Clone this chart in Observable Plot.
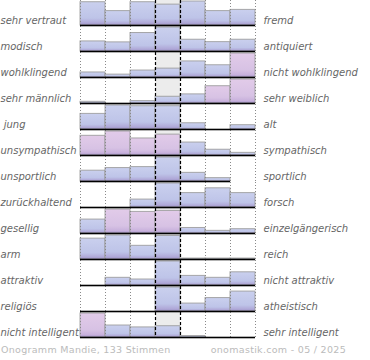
<!DOCTYPE html>
<html><head><meta charset="utf-8">
<script src="https://cdn.jsdelivr.net/npm/d3@7"></script>
<script src="https://cdn.jsdelivr.net/npm/@observablehq/plot@0.6"></script>
<style>
body{margin:0;background:#fff;font-family:"DejaVu Sans",sans-serif;}
#chart svg text{white-space:pre;}
.cap{display:flex;justify-content:space-between;width:370px;box-sizing:border-box;padding:0 24px 0 1px;font-size:9.5px;color:#bbb;line-height:20px;letter-spacing:0.3px;}
</style></head><body>
<div id="chart"></div>
<div class="cap"><span id="c1"></span><span id="c2"></span></div>
<script>
const leftLabels = ["sehr vertraut","modisch","wohlklingend","sehr männlich"," jung","unsympathisch","unsportlich","zurückhaltend","gesellig","arm","attraktiv","religiös","nicht intelligent"];
const rightLabels = ["fremd","antiquiert","nicht wohlklingend","sehr weiblich","alt","sympathisch","sportlich","forsch","einzelgängerisch","reich","nicht attraktiv","atheistisch","sehr intelligent"];
const scores = [1,2,3,4,5,6,7];
// bar heights relative to each row's most frequent answer (null = no answer)
const heights = [
  [0.97,0.60,0.97,0.87,1.00,0.60,0.65],
  [0.42,0.38,0.77,1.00,0.49,0.39,0.49],
  [0.21,0.12,0.29,0.37,0.67,0.51,1.00],
  [0.07,0.00,0.10,0.28,0.38,0.72,1.00],
  [0.65,1.00,0.97,0.97,0.26,0.00,0.18],
  [0.82,1.00,0.71,0.87,0.54,0.24,0.11],
  [0.45,0.56,0.60,1.00,0.36,0.14,null],
  [0.00,0.00,0.33,1.00,0.60,0.80,0.60],
  [0.58,1.00,0.90,0.94,0.23,0.11,0.18],
  [0.87,1.00,0.57,0.98,0.04,0.04,0.04],
  [0.00,0.32,0.25,1.00,0.40,0.32,0.55],
  [0.00,0.00,0.00,1.00,0.33,0.56,0.83],
  [1.00,0.50,0.42,0.47,0.06,0.00,0.00]
];
// answers marked in pink (score numbers per row)
const pinkAnswers = [[],[],[7],[6,7],[],[1,2,3,4],[],[],[2,3,4],[],[],[],[1]];
const captionLeft = "Onogramm Mandie, 133 Stimmen";
const captionRight = "onomastik.com - 05 / 2025";
const middleScore = 4;

const bars = leftLabels.flatMap((row, r) => scores.map((s, c) => ({
  row, score: s, v: heights[r][c], pink: pinkAnswers[r].includes(s)
})));
const drawn = bars.filter(d => d.v != null);
const edges = [scores[0] - 0.5, ...scores.map(s => s + 0.5)];
const midEdges = [middleScore - 0.5, middleScore + 0.5];
const rightRows = rightLabels.map((t, i) => ({row: leftLabels[i], t}));

const svg = Plot.plot({
  width: 370, height: 340,
  marginLeft: 80, marginRight: 115, marginTop: 0, marginBottom: 2,
  style: {fontFamily: "DejaVu Sans, sans-serif", background: "#fff"},
  x: {domain: [0.5, 7.5], axis: null},
  y: {domain: [0, 1], axis: null},
  fy: {domain: leftLabels, axis: null, paddingInner: 1/13, paddingOuter: 1/26},
  color: {type: "identity"},
  marks: [
    Plot.rect([middleScore], {x1: d => d - 0.5, x2: d => d + 0.5, y1: 0, y2: 1, fill: "#ececec", insetTop: -1, insetBottom: -1}),
    Plot.rectY(drawn, {fy: "row", x1: d => d.score - 0.5, x2: d => d.score + 0.5, y: "v",
      fill: d => d.pink ? "url(#gp)" : "url(#gb)", stroke: "#9a9a9a", strokeWidth: 1, strokeOpacity: 0.85}),
    Plot.ruleX(edges.filter(e => !midEdges.includes(e)), {stroke: "#8a8a8a", strokeDasharray: "1,2", insetTop: -1, insetBottom: -1}),
    Plot.ruleX(midEdges, {stroke: "#000", strokeWidth: 1.2, strokeDasharray: "3,2", insetTop: -1, insetBottom: -1}),
    Plot.ruleY(drawn, {fy: "row", y: 0, x1: d => d.score - 0.5, x2: d => d.score + 0.5, stroke: "#000", strokeWidth: 1.6}),
    Plot.text(leftLabels, {fy: d => d, text: d => d, frameAnchor: "left", dx: -80, dy: 7, textAnchor: "start",
      fontStyle: "italic", fontSize: 10, fill: "#666"}),
    Plot.text(rightRows, {fy: "row", text: "t", frameAnchor: "right", dx: 8, dy: 7, textAnchor: "start",
      fontStyle: "italic", fontSize: 10, fill: "#666"})
  ]
});
const defs = d3.select(svg).insert("defs", ":first-child");
const grad = (id, stops) => {
  const g = defs.append("linearGradient").attr("id", id).attr("x1", 0).attr("y1", 0).attr("x2", 0).attr("y2", 1);
  stops.forEach(([o, c]) => g.append("stop").attr("offset", o).attr("stop-color", c));
};
grad("gb", [["0", "#cad0ee"], ["0.7", "#bec4e8"], ["0.9", "#b0a9d8"], ["1", "#9d93c8"]]);
grad("gp", [["0", "#e2cbe9"], ["0.7", "#d7c2e4"], ["0.9", "#c8b1dc"], ["1", "#a898cc"]]);
document.getElementById("chart").append(svg);
document.getElementById("c1").textContent = captionLeft;
document.getElementById("c2").textContent = captionRight;
</script>
</body></html>
